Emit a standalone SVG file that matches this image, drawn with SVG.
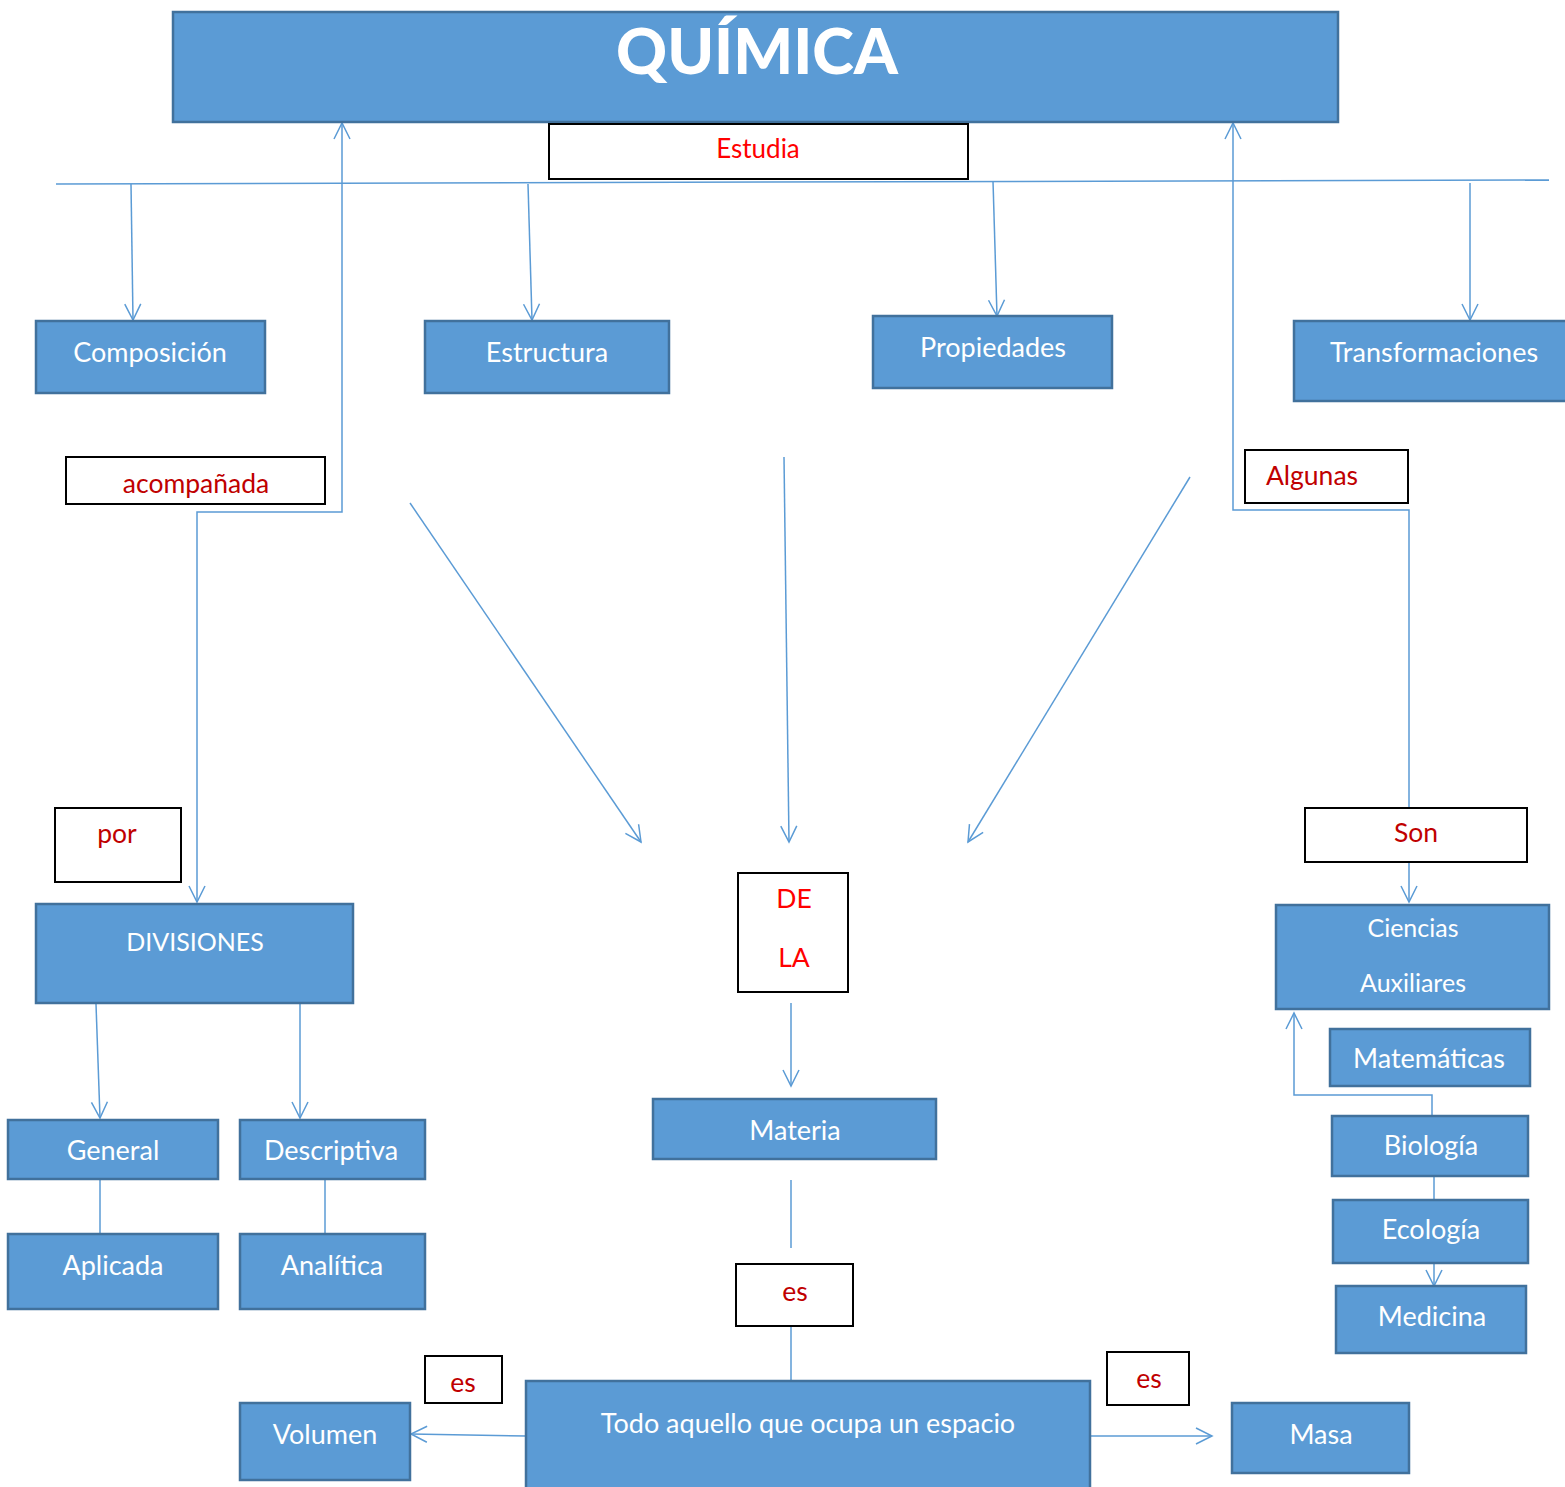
<svg xmlns="http://www.w3.org/2000/svg" width="1565" height="1487" viewBox="0 0 1565 1487">
<defs>
<style>
.n{fill:#5B9BD5;stroke:#41719C;stroke-width:2.5}
.l{fill:#fff;stroke:#000;stroke-width:2}
.t{font-family:Lato,"Open Sans","Liberation Sans",sans-serif;fill:#fff;font-size:27px;text-anchor:middle}
.r{font-family:Lato,"Open Sans","Liberation Sans",sans-serif;fill:#C00000;font-size:26.5px;text-anchor:middle}
.rr{fill:#FF0000}
.c{fill:none;stroke:#5B9BD5;stroke-width:1.5}
</style>
<marker id="a" viewBox="0 0 20 20" refX="18" refY="10" markerWidth="20" markerHeight="20" markerUnits="userSpaceOnUse" orient="auto-start-reverse">
<path d="M2,2 L18,10 L2,18" fill="none" stroke="#5B9BD5" stroke-width="1.5"/>
</marker>
</defs>
<rect width="1565" height="1487" fill="#fff"/>
<g id="connectors">
<line class="c" x1="56" y1="184" x2="1549" y2="180"/>
<line class="c" x1="131" y1="184" x2="133" y2="320" marker-end="url(#a)"/>
<line class="c" x1="528" y1="184" x2="532" y2="320" marker-end="url(#a)"/>
<line class="c" x1="993" y1="181" x2="997" y2="316" marker-end="url(#a)"/>
<line class="c" x1="1470" y1="183" x2="1470" y2="320" marker-end="url(#a)"/>
<polyline class="c" points="342,123 342,512 197,512 197,902" marker-start="url(#a)" marker-end="url(#a)"/>
<polyline class="c" points="1233,123 1233,510 1409,510 1409,902" marker-start="url(#a)" marker-end="url(#a)"/>
<line class="c" x1="410" y1="503" x2="641" y2="842" marker-end="url(#a)"/>
<line class="c" x1="784" y1="457" x2="789" y2="842" marker-end="url(#a)"/>
<line class="c" x1="1190" y1="477" x2="968" y2="842" marker-end="url(#a)"/>
<line class="c" x1="96" y1="1004" x2="100" y2="1118" marker-end="url(#a)"/>
<line class="c" x1="300" y1="1004" x2="300" y2="1118" marker-end="url(#a)"/>
<line class="c" x1="100" y1="1180" x2="100" y2="1234"/>
<line class="c" x1="325" y1="1180" x2="325" y2="1234"/>
<line class="c" x1="791" y1="1003" x2="791" y2="1086" marker-end="url(#a)"/>
<line class="c" x1="791" y1="1180" x2="791" y2="1248"/>
<line class="c" x1="791" y1="1326" x2="791" y2="1381"/>
<line class="c" x1="526" y1="1436" x2="411" y2="1434" marker-end="url(#a)"/>
<line class="c" x1="1090" y1="1436" x2="1212" y2="1436" marker-end="url(#a)"/>
<polyline class="c" points="1432,1116 1432,1095 1294,1095 1294,1013" marker-end="url(#a)"/>
<line class="c" x1="1434" y1="1176" x2="1434" y2="1286" marker-end="url(#a)"/>
</g>
<g id="quimica"><rect class="n" x="173" y="12" width="1165" height="110"/><text class="t" x="757" y="74" style="font-size:63px;font-weight:900">QUÍMICA</text></g>
<g id="estudia"><rect class="l" x="549" y="124" width="419" height="55"/><text class="r rr" x="758" y="158" style="font-size:26px">Estudia</text></g>
<g id="composicion"><rect class="n" x="36" y="321" width="229" height="72"/><text class="t" x="150" y="362">Composición</text></g>
<g id="estructura"><rect class="n" x="425" y="321" width="244" height="72"/><text class="t" x="547" y="362">Estructura</text></g>
<g id="propiedades"><rect class="n" x="873" y="316" width="239" height="72"/><text class="t" x="993" y="357">Propiedades</text></g>
<g id="transformaciones"><rect class="n" x="1294" y="321" width="275" height="80"/><text class="t" x="1434" y="362">Transformaciones</text></g>
<g id="acompanada"><rect class="l" x="66" y="457" width="259" height="47"/><text class="r" x="196" y="493">acompañada</text></g>
<g id="algunas"><rect class="l" x="1245" y="450" width="163" height="53"/><text class="r" x="1312" y="485">Algunas</text></g>
<g id="por"><rect class="l" x="55" y="808" width="126" height="74"/><text class="r" x="117" y="843">por</text></g>
<g id="son"><rect class="l" x="1305" y="808" width="222" height="54"/><text class="r" x="1416" y="842">Son</text></g>
<g id="divisiones"><rect class="n" x="36" y="904" width="317" height="99"/><text class="t" x="195" y="951" style="font-size:25px">DIVISIONES</text></g>
<g id="general"><rect class="n" x="8" y="1120" width="210" height="59"/><text class="t" x="113" y="1160">General</text></g>
<g id="descriptiva"><rect class="n" x="240" y="1120" width="185" height="59"/><text class="t" x="331" y="1160">Descriptiva</text></g>
<g id="aplicada"><rect class="n" x="8" y="1234" width="210" height="75"/><text class="t" x="113" y="1275">Aplicada</text></g>
<g id="analitica"><rect class="n" x="240" y="1234" width="185" height="75"/><text class="t" x="332" y="1275">Analítica</text></g>
<g id="dela"><rect class="l" x="738" y="873" width="110" height="119"/><text class="r rr" x="794" y="908">DE</text><text class="r rr" x="794" y="967">LA</text></g>
<g id="materia"><rect class="n" x="653" y="1099" width="283" height="60"/><text class="t" x="795" y="1140">Materia</text></g>
<g id="es-centro"><rect class="l" x="736" y="1264" width="117" height="62"/><text class="r" x="795" y="1301">es</text></g>
<g id="todo"><rect class="n" x="526" y="1381" width="564" height="110"/><text class="t" x="808" y="1433">Todo aquello que ocupa un espacio</text></g>
<g id="volumen"><rect class="n" x="240" y="1403" width="170" height="77"/><text class="t" x="325" y="1444">Volumen</text></g>
<g id="es-izq"><rect class="l" x="425" y="1356" width="77" height="47"/><text class="r" x="463" y="1392">es</text></g>
<g id="es-der"><rect class="l" x="1107" y="1352" width="82" height="53"/><text class="r" x="1149" y="1388">es</text></g>
<g id="masa"><rect class="n" x="1232" y="1403" width="177" height="70"/><text class="t" x="1321" y="1444">Masa</text></g>
<g id="ciencias"><rect class="n" x="1276" y="905" width="273" height="104"/><text class="t" x="1413" y="937" style="font-size:25px">Ciencias</text><text class="t" x="1413" y="992" style="font-size:25px">Auxiliares</text></g>
<g id="matematicas"><rect class="n" x="1330" y="1029" width="200" height="57"/><text class="t" x="1429" y="1068">Matemáticas</text></g>
<g id="biologia"><rect class="n" x="1332" y="1116" width="196" height="60"/><text class="t" x="1431" y="1155">Biología</text></g>
<g id="ecologia"><rect class="n" x="1333" y="1200" width="195" height="63"/><text class="t" x="1431" y="1239">Ecología</text></g>
<g id="medicina"><rect class="n" x="1336" y="1286" width="190" height="67"/><text class="t" x="1432" y="1326">Medicina</text></g>
</svg>
